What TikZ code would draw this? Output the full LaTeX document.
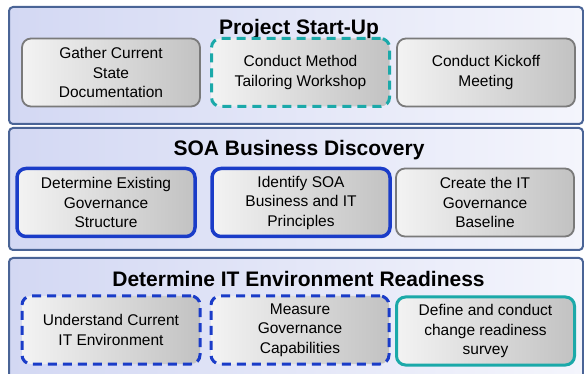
\documentclass[tikz,border=0pt]{standalone}
\usepackage{fontspec}
\setmainfont{Liberation Sans}
\usetikzlibrary{positioning}
\definecolor{panelline}{HTML}{4A6496}
\definecolor{panelleft}{HTML}{D3D8F3}
\definecolor{panelright}{HTML}{F4F5FC}
\definecolor{boxleft}{HTML}{F3F3F3}
\definecolor{boxright}{HTML}{C2C2C2}
\definecolor{boxline}{HTML}{7A7A7A}
\definecolor{tealline}{HTML}{1BA9A9}
\definecolor{blueline}{HTML}{1A3CC8}
\tikzset{
  panel/.style={draw=panelline, line width=2pt, rounded corners=4pt, left color=panelleft, right color=panelright, anchor=north west, minimum width=574pt, inner sep=0pt},
  paneltitle/.style={font=\fontsize{21}{24}\selectfont\bfseries},
  taskbox/.style={draw=boxline, line width=1.8pt, rounded corners=9pt, left color=boxleft, right color=boxright, minimum width=178pt, minimum height=68pt, align=center, font=\fontsize{15.5}{19.5}\selectfont, inner sep=0pt},
  tealdash/.style={taskbox, draw=tealline, line width=3pt, dash pattern=on 9pt off 6pt},
  tealsolid/.style={taskbox, draw=tealline, line width=3pt},
  bluesolid/.style={taskbox, draw=blueline, line width=3.5pt},
  bluedash/.style={taskbox, draw=blueline, line width=3pt, dash pattern=on 9pt off 6pt}
}
\begin{document}
\begin{tikzpicture}[x=1pt,y=-1pt]
\useasboundingbox (0,0) rectangle (584,374);
\clip (0,0) rectangle (584,374);

\node[panel, minimum height=117pt] (startup) at (8,6) {};
\node[paneltitle] (startuptitle) at (299,29) {Project Start-Up};
\node[taskbox] (gather) at (111,72.5) {Gather Current\\State\\Documentation};
\node[tealdash] (tailor) at (300.5,72.5) {Conduct Method\\Tailoring Workshop};
\node[taskbox] (kickoff) at (486,72.5) {Conduct Kickoff\\Meeting};

\node[panel, minimum height=122pt] (discovery) at (8,127) {};
\node[paneltitle] (discoverytitle) at (299,150) {SOA Business Discovery};
\node[bluesolid] (existing) at (106,202.5) {Determine Existing\\Governance\\Structure};
\node[bluesolid] (principles) at (301,202.5) {Identify SOA\\Business and IT\\Principles};
\node[taskbox] (baseline) at (485,202.5) {Create the IT\\Governance\\Baseline};

\node[panel, minimum height=130pt] (readiness) at (8,257) {};
\node[paneltitle] (readinesstitle) at (298.5,279) {Determine IT Environment Readiness};
\node[bluedash] (itenv) at (111,330) {Understand Current\\IT Environment};
\node[bluedash] (measure) at (300,330) {Measure\\Governance\\Capabilities};
\node[tealsolid] (survey) at (485.5,331) {Define and conduct\\change readiness\\survey};

\end{tikzpicture}
\end{document}
